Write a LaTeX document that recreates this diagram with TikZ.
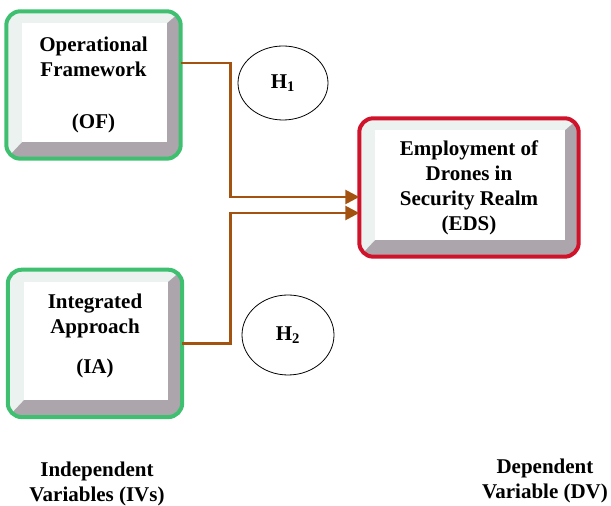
\documentclass[tikz,border=0pt]{standalone}
\usepackage{fontspec}
\setmainfont{Liberation Serif}
\usepackage{tikz}
\usetikzlibrary{positioning,arrows.meta,shapes.geometric,calc}
\pgfdeclarelayer{background}
\pgfsetlayers{background,main}
\definecolor{ivgreen}{RGB}{62,192,112}
\definecolor{dvred}{RGB}{208,18,42}
\definecolor{linkbrown}{RGB}{163,82,16}
\definecolor{bevelgray}{RGB}{172,165,172}
\definecolor{bevellight}{RGB}{236,242,239}

\begin{document}
\begin{tikzpicture}[x=1pt, y=1pt, font=\fontsize{21}{25}\selectfont\bfseries,
	box/.style={rectangle, align=center, inner sep=0pt},
	ivbox/.style={box, minimum width=174pt, minimum height=147pt},
	dvbox/.style={box, minimum width=219pt, minimum height=138pt},
	hyp/.style={ellipse, draw, line width=0.8pt, inner sep=0pt},
	link/.style={draw=linkbrown, line width=2.6pt, -{Triangle[length=14pt,width=14pt]}},
	varlabel/.style={align=center, inner sep=0pt}]
	\useasboundingbox (0,0) rectangle (611,506);

	\node [ivbox] (of) at (93.5,421) {Operational\\Framework\\[27pt](OF)};
	\node [ivbox] (ia) [below=111pt of of, xshift=1.5pt] {Integrated\\Approach\\[15pt](IA)\\[-6pt]\mbox{}};
	\node [dvbox] (eds) at (469,318.5) {Employment of\\Drones in\\Security Realm\\(EDS)};

	\node [hyp, minimum width=90pt, minimum height=74pt] (h1) at (283,423) {H\textsubscript{1}};
	\node [hyp, minimum width=92pt, minimum height=80pt] (h2) at (288,171) {H\textsubscript{2}};

	\node [varlabel] (ivs) at (97,22) {Independent\\Variables (IVs)};
	\node [varlabel] (dv) at (545,25) {Dependent\\Variable (DV)};

	% bevelled boxes behind the texts
	\begin{pgfonlayer}{background}
	\foreach \b/\c in {of/ivgreen, ia/ivgreen, eds/dvred}{
		\fill [bevelgray, rounded corners=14pt] (\b.north west) rectangle (\b.south east);
		\begin{scope}
			\clip [rounded corners=14pt] (\b.north west) rectangle (\b.south east);
			\fill [bevellight] (\b.north west) -- (\b.north east) -- ([shift={(-14pt,-12pt)}]\b.north east)
				-- ([shift={(16pt,17pt)}]\b.south west) -- (\b.south west) -- cycle;
		\end{scope}
		\fill [white] ([shift={(16pt,-12pt)}]\b.north west) rectangle ([shift={(-14pt,17pt)}]\b.south east);
		\draw [\c, line width=4pt, rounded corners=14pt] (\b.north west) rectangle (\b.south east);
	}
	\end{pgfonlayer}

	\path [link] ([yshift=22pt]of.east) -- ++(50,0) |- ([yshift=-9.5pt]eds.west);
	\path [link] (ia.east) -- ++(48,0) |- ([yshift=-25.5pt]eds.west);
\end{tikzpicture}
\end{document}
